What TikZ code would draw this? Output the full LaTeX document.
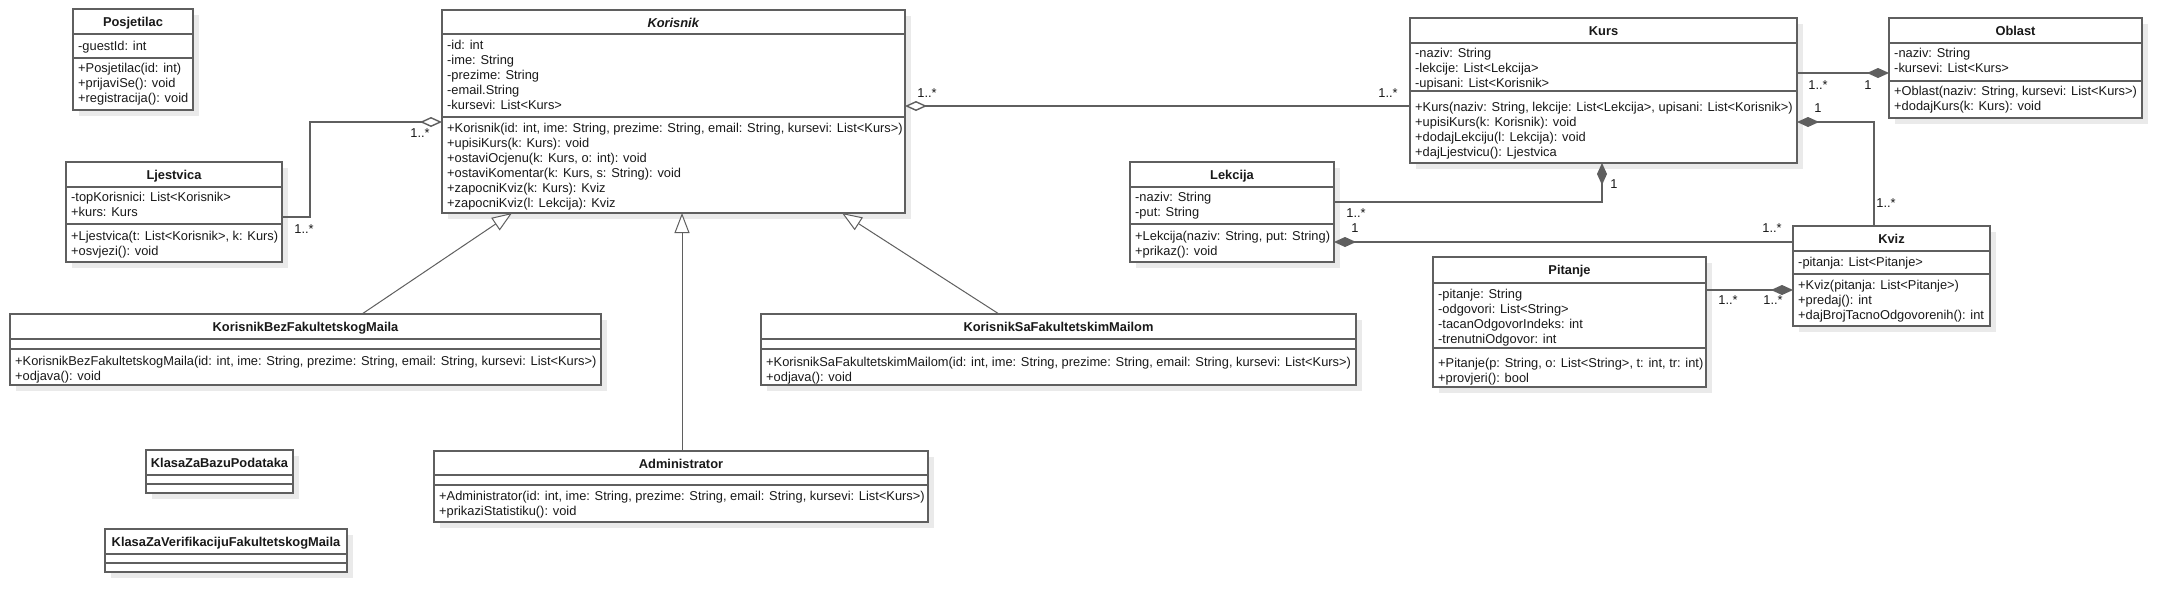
\documentclass[tikz,border=0pt]{standalone}
\usepackage{fontspec}
\setmainfont{Liberation Sans}
\usetikzlibrary{arrows.meta,calc}
\definecolor{linec}{RGB}{95,95,95}
\definecolor{shadowc}{RGB}{234,234,234}
\definecolor{txtc}{RGB}{25,25,25}

\newcommand{\umlclass}[7]{%
  \fill[shadowc] (#2+6,-#4-6) rectangle (#3+6,-#5-6);
  \node[clsbox, minimum width=#3-#2, minimum height=#5-#4] (#1) at (#2,-#4) {};
  \node[ttl, anchor=base] (#1-title) at ({(#2+#3)/2},-#4-17.3) {#6};
  \foreach \dv in {#7} \draw[divl] ([yshift=-\dv]#1.north west) -- ([yshift=-\dv]#1.north east);
}
\newcommand{\rowsof}[4]{%
  \foreach \rowtext [count=\ri from 0] in {#4}
    \node[txt, anchor=base west] (#1-\ri) at (#2+5,-#3-4-15*\ri) {\rowtext};
}

\begin{document}
\begin{tikzpicture}[x=1pt,y=1pt,
  txt/.style={font=\fontsize{12.85}{15}\selectfont, inner sep=0pt, text=txtc},
  ttl/.style={txt, font=\fontsize{12.85}{15}\selectfont\bfseries},
  clsbox/.style={draw=linec, line width=1.4pt, fill=white, inner sep=0pt, outer sep=0pt, anchor=north west},
  divl/.style={draw=linec, line width=1.4pt},
  conn/.style={draw=linec, line width=1.4pt},
  gen/.style={draw=linec, line width=1pt, -{Triangle[open, length=20pt, width=15pt, fill=white]}},
  agg/.style={conn, -{Diamond[open, length=22pt, width=10pt, fill=white]}},
  comp/.style={conn, -{Diamond[length=22pt, width=10pt, fill=linec]}},
  mult/.style={txt},
]
\fill[white] (0,0) rectangle (2182,-614);
\useasboundingbox (0,0) rectangle (2182,-614);

% ---------- classes ----------
\umlclass{posjetilac}{73}{193}{9}{110}{Posjetilac}{25,49}
\rowsof{posjetilac-a}{73}{46}{{-guestId: int}}
\rowsof{posjetilac-m}{73}{68}{{+Posjetilac(id: int)},{+prijaviSe(): void},{+registracija(): void}}

\umlclass{korisnik}{442}{905}{10}{213}{\textit{Korisnik}}{24,107}
\rowsof{korisnik-a}{442}{45}{{-id: int},{-ime: String},{-prezime: String},{-email.String},{-kursevi: List<Kurs>}}
\rowsof{korisnik-m}{442}{128}{{+Korisnik(id: int, ime: String, prezime: String, email: String, kursevi: List<Kurs>)},{+upisiKurs(k: Kurs): void},{+ostaviOcjenu(k: Kurs, o: int): void},{+ostaviKomentar(k: Kurs, s: String): void},{+zapocniKviz(k: Kurs): Kviz},{+zapocniKviz(l: Lekcija): Kviz}}

\umlclass{ljestvica}{66}{282}{162}{262}{Ljestvica}{25,62}
\rowsof{ljestvica-a}{66}{197}{{-topKorisnici: List<Korisnik>},{+kurs: Kurs}}
\rowsof{ljestvica-m}{66}{236}{{+Ljestvica(t: List<Korisnik>, k: Kurs)},{+osvjezi(): void}}

\umlclass{kurs}{1410}{1797}{18}{163}{Kurs}{25,73}
\rowsof{kurs-a}{1410}{53}{{-naziv: String},{-lekcije: List<Lekcija>},{-upisani: List<Korisnik>}}
\rowsof{kurs-m}{1410}{107}{{+Kurs(naziv: String, lekcije: List<Lekcija>, upisani: List<Korisnik>)},{+upisiKurs(k: Korisnik): void},{+dodajLekciju(l: Lekcija): void},{+dajLjestvicu(): Ljestvica}}

\umlclass{lekcija}{1130}{1334}{162}{262}{Lekcija}{25,62}
\rowsof{lekcija-a}{1130}{197}{{-naziv: String},{-put: String}}
\rowsof{lekcija-m}{1130}{236}{{+Lekcija(naziv: String, put: String)},{+prikaz(): void}}

\umlclass{oblast}{1889}{2142}{18}{118}{Oblast}{25,63}
\rowsof{oblast-a}{1889}{53}{{-naziv: String},{-kursevi: List<Kurs>}}
\rowsof{oblast-m}{1889}{91}{{+Oblast(naziv: String, kursevi: List<Kurs>)},{+dodajKurs(k: Kurs): void}}

\umlclass{kviz}{1793}{1990}{226}{326}{Kviz}{25,48}
\rowsof{kviz-a}{1793}{262}{{-pitanja: List<Pitanje>}}
\rowsof{kviz-m}{1793}{285}{{+Kviz(pitanja: List<Pitanje>)},{+predaj(): int},{+dajBrojTacnoOdgovorenih(): int}}

\umlclass{pitanje}{1433}{1706}{257}{387}{Pitanje}{26,91}
\rowsof{pitanje-a}{1433}{294}{{-pitanje: String},{-odgovori: List<String>},{-tacanOdgovorIndeks: int},{-trenutniOdgovor: int}}
\rowsof{pitanje-m}{1433}{363}{{+Pitanje(p: String, o: List<String>, t: int, tr: int)},{+provjeri(): bool}}

\umlclass{kbfm}{10}{601}{314}{385}{KorisnikBezFakultetskogMaila}{25,35}
\rowsof{kbfm-m}{10}{361}{{+KorisnikBezFakultetskogMaila(id: int, ime: String, prezime: String, email: String, kursevi: List<Kurs>)},{+odjava(): void}}

\umlclass{ksfm}{761}{1356}{314}{385}{KorisnikSaFakultetskimMailom}{25,35}
\rowsof{ksfm-m}{761}{362}{{+KorisnikSaFakultetskimMailom(id: int, ime: String, prezime: String, email: String, kursevi: List<Kurs>)},{+odjava(): void}}

\umlclass{admin}{434}{928}{451}{522}{Administrator}{24,34}
\rowsof{admin-m}{434}{496}{{+Administrator(id: int, ime: String, prezime: String, email: String, kursevi: List<Kurs>)},{+prikaziStatistiku(): void}}

\umlclass{baza}{146}{293}{450}{493}{KlasaZaBazuPodataka}{25,34}
\umlclass{verif}{105}{347}{529}{572}{KlasaZaVerifikacijuFakultetskogMaila}{25,34}

% ---------- connectors ----------
\draw[agg] ([yshift=-55]ljestvica.north east) -- ++(28,0) |- ([yshift=-112]korisnik.north west);
\draw[agg] ([yshift=-88]kurs.north west) -- ([yshift=-96]korisnik.north east);
\draw[comp] ([yshift=-40]lekcija.north east) -| ([xshift=192]kurs.south west);
\draw[comp] ([yshift=-16]kviz.north west) -- ([yshift=-80]lekcija.north east);
\draw[comp] ([yshift=-55]kurs.north east) -- ([yshift=-55]oblast.north west);
\draw[comp] ([xshift=81]kviz.north west) |- ([yshift=-104]kurs.north east);
\draw[comp] ([yshift=-33]pitanje.north east) -- ([yshift=-64]kviz.north west);

\draw[gen] ([xshift=352]kbfm.north west) -- ([xshift=70]korisnik.south west);
\draw[gen] ([xshift=248]admin.north west) -- ([xshift=248]admin.north west |- korisnik.south);
\draw[gen] ([xshift=238]ksfm.north west) -- ([xshift=400]korisnik.south west);

% ---------- multiplicities ----------
\node[mult] (m1a) at (420,-133) {1..*};
\node[mult] (m1b) at (304,-229) {1..*};
\node[mult] (m2a) at (927,-93) {1..*};
\node[mult] (m2b) at (1388,-93) {1..*};
\node[mult] (m3a) at (1356,-213) {1..*};
\node[mult] (m3b) at (1614,-184) {1};
\node[mult] (m4a) at (1355,-228) {1};
\node[mult] (m4b) at (1772,-228) {1..*};
\node[mult] (m5a) at (1818,-85) {1..*};
\node[mult] (m5b) at (1868,-85) {1};
\node[mult] (m6a) at (1818,-108) {1};
\node[mult] (m6b) at (1886,-203) {1..*};
\node[mult] (m7a) at (1728,-300) {1..*};
\node[mult] (m7b) at (1773,-300) {1..*};
\end{tikzpicture}
\end{document}
